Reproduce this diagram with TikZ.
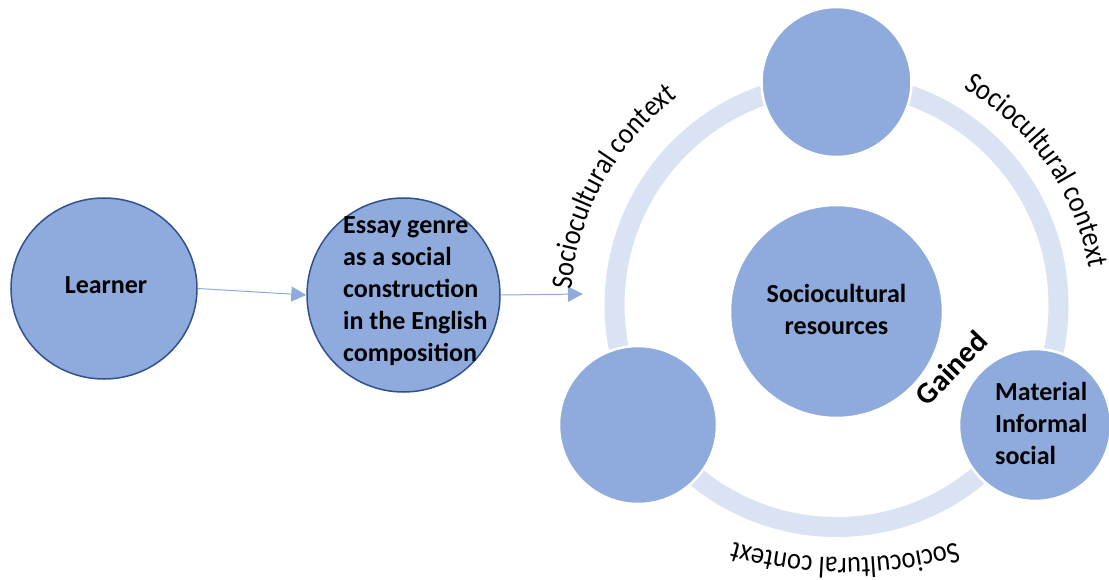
\documentclass[tikz,border=0pt]{standalone}
\usepackage{fontspec}
\setmainfont{Carlito}
\newfontfamily\arcfont[FakeStretch=0.88]{Carlito}
\usetikzlibrary{arrows.meta,shapes.geometric,decorations.text}
\definecolor{nodefill}{HTML}{8FAADC}
\definecolor{ringcol}{HTML}{DAE3F3}
\definecolor{edgeblue}{HTML}{2F528F}
\definecolor{arrowcol}{HTML}{8FAADC}
\begin{document}
\begin{tikzpicture}[x=1pt,y=1pt,
  outerball/.style={ellipse, fill=nodefill, draw=edgeblue, line width=1.5pt, inner sep=0pt},
  ringball/.style={circle, fill=nodefill, draw=white, line width=2.5pt, inner sep=0pt},
  boldtext/.style={font=\fontsize{26}{32}\selectfont\bfseries, inner sep=0pt},
  flow/.style={draw=arrowcol, line width=1pt, -{Triangle[length=15pt,width=15pt]}},
  arctext/.style={decorate, decoration={text along path, text align=center,
      text={|\arcfont\fontsize{30}{34}\selectfont|#1}}},
]
\useasboundingbox (0,0) rectangle (1109,-580);
\coordinate (ringc) at (836.5,-305);
\coordinate (textc) at (836.5,-311);
\coordinate (bottomc) at (845,-158);
% ring
\draw[ringcol, line width=20pt] (ringc) circle[radius=222];
% left nodes
\node[outerball, minimum width=186, minimum height=181] (learner) at (104,-288.5) {};
\node[outerball, minimum width=193, minimum height=194] (essay) at (403.5,-295) {};
% ring nodes
\node[ringball, minimum size=150] (topc) at (836.5,-82) {};
\node[ringball, minimum size=213] (centerc) at (836.5,-311.5) {};
\node[ringball, minimum size=158] (leftc) at (638,-425) {};
\node[ringball, minimum size=152] (rightc) at (1035,-425) {};
% labels
\node[boldtext] (learnerlbl) at ([xshift=2pt,yshift=3pt]learner.center) {Learner};
\node[boldtext, align=left, anchor=west] (essaylbl) at (343,-291) {Essay genre\\as a social\\construction\\in the English\\composition};
\node[boldtext, align=center] (centerlbl) at ([yshift=2pt]centerc.center) {Sociocultural\\resources};
\node[boldtext, align=left, anchor=west] (rightlbl) at (995,-423) {Material\\Informal\\social};
\node[font=\fontsize{30}{34}\selectfont\bfseries, inner sep=0pt, rotate=46] (gained) at (951,-368) {Gained};
% arrows
\coordinate (tip) at (583,-294);
\draw[flow] (learner.east) -- (essay.west);
\draw[flow] (essay.east) -- (tip);
% curved texts
\path[shift={(textc)}, arctext={Sociocultural context}] (195:266) arc[start angle=195, end angle=107, radius=266];
\path[shift={(textc)}, arctext={Sociocultural context}] (78:256) arc[start angle=78, end angle=-8, radius=256];
\path[shift={(bottomc)}, arctext={Sociocultural context}] (-55:400) arc[start angle=-55, end angle=-125, radius=400];
\end{tikzpicture}
\end{document}
